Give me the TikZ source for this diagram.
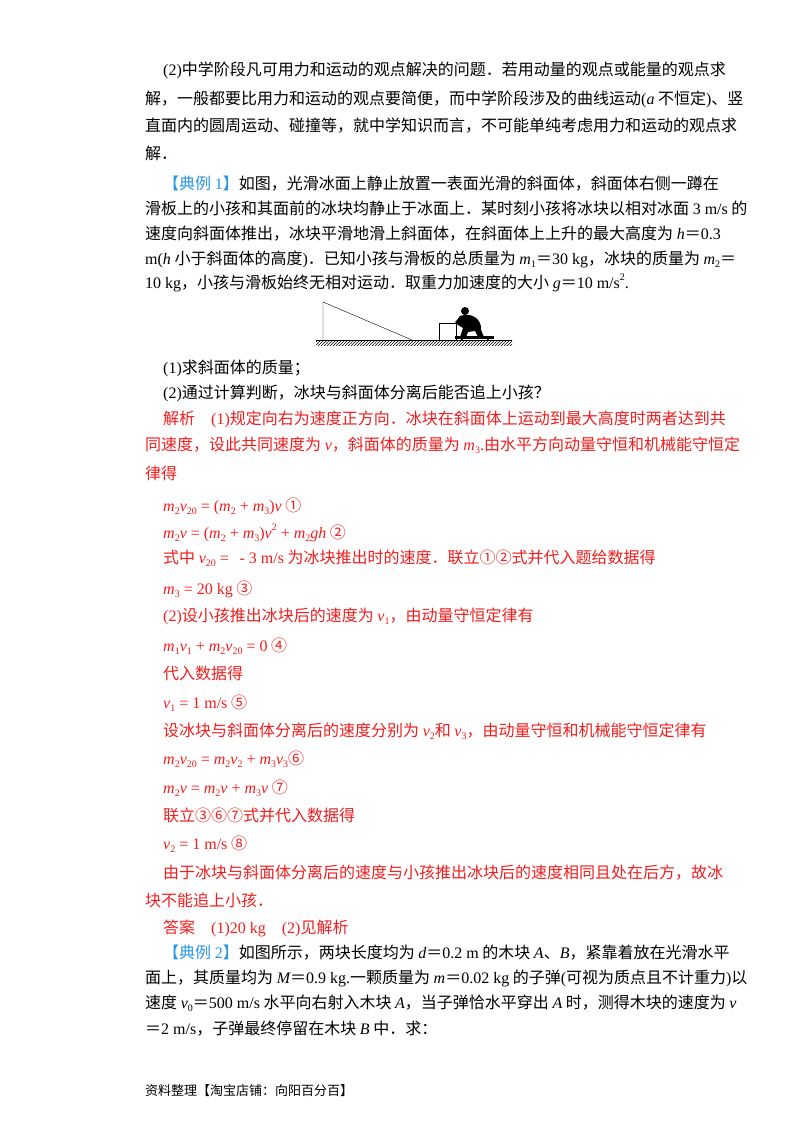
\documentclass[tikz,border=0pt]{standalone}
\usepackage{fontspec}
\usetikzlibrary{patterns}
\setmainfont{Noto Sans CJK SC}
\newfontfamily\lat{Liberation Serif}
\newcommand\E[1]{{\lat #1}}
\newcommand\I[1]{{\lat\itshape #1}}
\newcommand\Sb[1]{\raisebox{-0.35ex}{\lat\fontsize{10}{10}\selectfont #1}}
\newcommand\Sp[1]{\raisebox{0.9ex}{\lat\fontsize{10}{10}\selectfont #1}}
\definecolor{rd}{RGB}{240,30,30}
\definecolor{bl}{RGB}{40,150,225}
\begin{document}
\begin{tikzpicture}[x=1pt,y=-1pt,
  ln/.style={anchor=base west,inner sep=0,font=\fontsize{16}{18}\selectfont},
  rl/.style={ln,text=rd}]
\useasboundingbox[fill=white] (0,0) rectangle (800,1132);
% black text
\node[ln] (l1) at (163,76) {\E{(2)}中学阶段凡可用力和运动的观点解决的问题．若用动量的观点或能量的观点求};
\node[ln] (l2) at (145,104) {解，一般都要比用力和运动的观点要简便，而中学阶段涉及的曲线运动\E{(}\I{a} 不恒定\E{)}、竖};
\node[ln] (l3) at (145,131) {直面内的圆周运动、碰撞等，就中学知识而言，不可能单纯考虑用力和运动的观点求};
\node[ln] (l4) at (145,159) {解．};
\node[ln] (l5) at (163,189) {\textcolor{bl}{【典例 \E{1}】}如图，光滑冰面上静止放置一表面光滑的斜面体，斜面体右侧一蹲在};
\node[ln] (l6) at (145,214) {滑板上的小孩和其面前的冰块均静止于冰面上．某时刻小孩将冰块以相对冰面 \E{3 m/s} 的};
\node[ln] (l7) at (145,239) {速度向斜面体推出，冰块平滑地滑上斜面体，在斜面体上上升的最大高度为 \I{h}＝\E{0.3}};
\node[ln] (l8) at (145,264) {\E{m(}\I{h} 小于斜面体的高度\E{)}．已知小孩与滑板的总质量为 \I{m}\Sb{1}＝\E{30 kg}，冰块的质量为 \I{m}\Sb{2}＝};
\node[ln] (l9) at (145,288) {\E{10 kg}，小孩与滑板始终无相对运动．取重力加速度的大小 \I{g}＝\E{10 m/s}\Sp{2}\E{.}};
% figure
\fill[pattern=north east lines] (316,340) rectangle (512,345);
\draw (316,340) -- (512,340);
\draw (323,340) -- (323,302) -- (412,340);
\draw (439,340) -- (439,323) -- (456,323) -- (456,340);
\fill (455,336) rectangle (494,338.5);
\fill (462,339) circle (1.3) (488,339) circle (1.3);
\fill (465,311) circle (4);
\fill (460,316) .. controls (470,312) and (482,318) .. (481,330) -- (484,337) -- (478,337) -- (475,331) -- (468,332) -- (466,337) -- (460,337) -- (463,328) -- (458,325) -- (455,322) -- (457,320) -- cycle;
\node[ln] (q1) at (163,373) {\E{(1)}求斜面体的质量；};
\node[ln] (q2) at (163,398) {\E{(2)}通过计算判断，冰块与斜面体分离后能否追上小孩？};
% red solution
\node[rl] (s1) at (163,424) {解析　\E{(1)}规定向右为速度正方向．冰块在斜面体上运动到最大高度时两者达到共};
\node[rl] (s2) at (145,450) {同速度，设此共同速度为 \I{v}，斜面体的质量为 \I{m}\Sb{3}\E{.}由水平方向动量守恒和机械能守恒定};
\node[rl] (s3) at (145,479) {律得};
\node[rl] (e1) at (163,511) {\I{m}\Sb{2}\I{v}\Sb{20}\E{ = (}\I{m}\Sb{2}\E{ + }\I{m}\Sb{3}\E{)}\I{v} ①};
\node[rl] (e2) at (163,538) {\I{m}\Sb{2}\I{v}\E{ = (}\I{m}\Sb{2}\E{ + }\I{m}\Sb{3}\E{)}\I{v}\Sp{2}\E{ + }\I{m}\Sb{2}\I{gh} ②};
\node[rl] (t1) at (163,563) {式中 \I{v}\Sb{20}\E{ = \ \,- 3 m/s} 为冰块推出时的速度．联立①②式并代入题给数据得};
\node[rl] (e3) at (163,594) {\I{m}\Sb{3}\E{ = 20 kg} ③};
\node[rl] (t2) at (163,621) {\E{(2)}设小孩推出冰块后的速度为 \I{v}\Sb{1}，由动量守恒定律有};
\node[rl] (e4) at (163,651) {\I{m}\Sb{1}\I{v}\Sb{1}\E{ + }\I{m}\Sb{2}\I{v}\Sb{20}\E{ = 0} ④};
\node[rl] (t3) at (163,679) {代入数据得};
\node[rl] (e5) at (163,708) {\I{v}\Sb{1}\E{ = 1 m/s} ⑤};
\node[rl] (t4) at (163,736) {设冰块与斜面体分离后的速度分别为 \I{v}\Sb{2}和 \I{v}\Sb{3}，由动量守恒和机械能守恒定律有};
\node[rl] (e6) at (163,764) {\I{m}\Sb{2}\I{v}\Sb{20}\E{ = }\I{m}\Sb{2}\I{v}\Sb{2}\E{ + }\I{m}\Sb{3}\I{v}\Sb{3}⑥};
\node[rl] (e7) at (163,793) {\I{m}\Sb{2}\I{v}\E{ = }\I{m}\Sb{2}\I{v}\E{ + }\I{m}\Sb{3}\I{v} ⑦};
\node[rl] (t5) at (163,821) {联立③⑥⑦式并代入数据得};
\node[rl] (e8) at (163,849) {\I{v}\Sb{2}\E{ = 1 m/s} ⑧};
\node[rl] (t6) at (163,878) {由于冰块与斜面体分离后的速度与小孩推出冰块后的速度相同且处在后方，故冰};
\node[rl] (t7) at (145,906) {块不能追上小孩．};
\node[rl] (an) at (163,933) {答案　\E{(1)20 kg}　\E{(2)}见解析};
% example 2
\node[ln] (m1) at (163,958) {\textcolor{bl}{【典例 \E{2}】}如图所示，两块长度均为 \I{d}＝\E{0.2 m} 的木块 \I{A}、\I{B}，紧靠着放在光滑水平};
\node[ln] (m2) at (145,983) {面上，其质量均为 \I{M}＝\E{0.9 kg.}一颗质量为 \I{m}＝\E{0.02 kg} 的子弹\E{(}可视为质点且不计重力\E{)}以};
\node[ln] (m3) at (145,1008) {速度 \I{v}\Sb{0}＝\E{500 m/s} 水平向右射入木块 \I{A}，当子弹恰水平穿出 \I{A} 时，测得木块的速度为 \I{v}};
\node[ln] (m4) at (145,1034) {＝\E{2 m/s}，子弹最终停留在木块 \I{B} 中．求：};
\node[ln,font=\fontsize{13}{15}\selectfont] (ft) at (145,1095) {资料整理【淘宝店铺：向阳百分百】};
\end{tikzpicture}
\end{document}
